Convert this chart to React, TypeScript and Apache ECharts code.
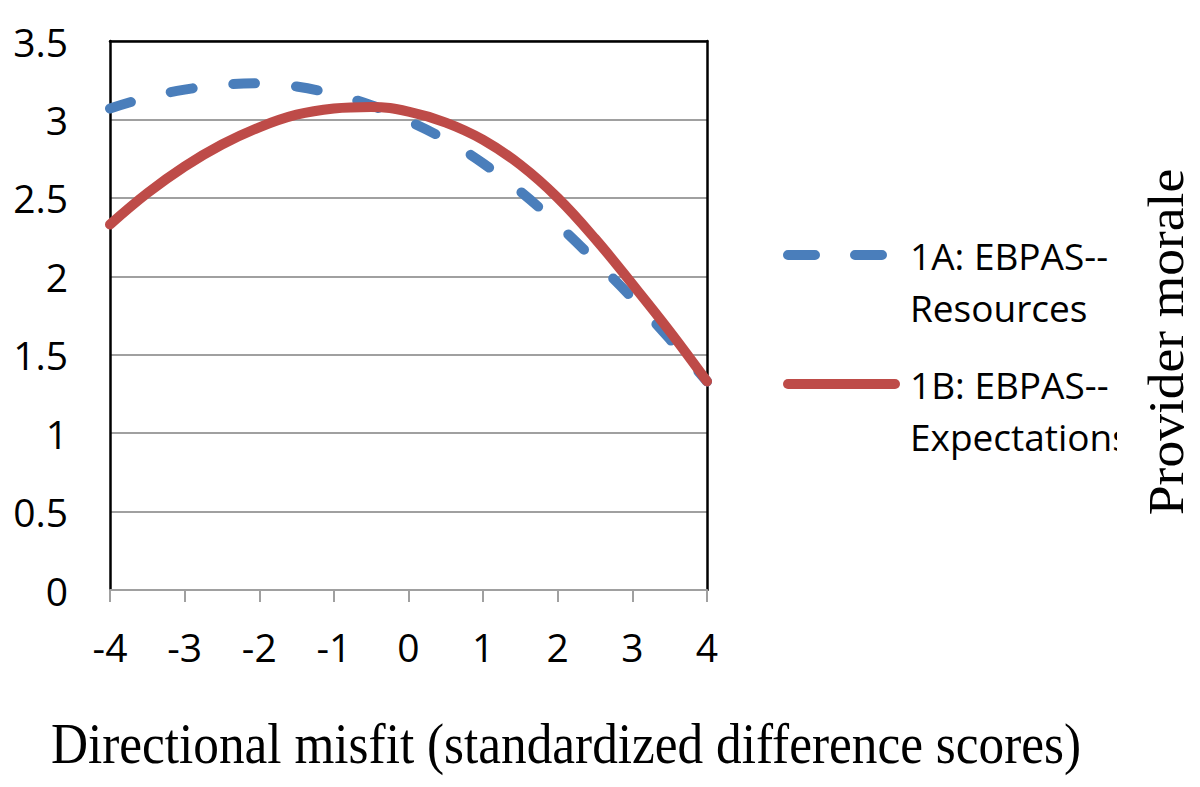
import React, { useEffect, useRef } from "react";
import * as echarts from "echarts";

const xValues = [-4, -3.5, -3, -2.5, -2, -1.5, -1, -0.5, 0, 0.5, 1, 1.5, 2, 2.5, 3, 3.5, 4];
const resources = [3.07, 3.14, 3.19, 3.22, 3.23, 3.21, 3.16, 3.09, 2.99, 2.87, 2.72, 2.54, 2.33, 2.1, 1.86, 1.6, 1.33];
const expectations = [2.33, 2.53, 2.7, 2.84, 2.95, 3.03, 3.07, 3.08, 3.05, 2.98, 2.87, 2.71, 2.5, 2.24, 1.95, 1.65, 1.33];
const seriesNames = ["1A: EBPAS--\nResources", "1B: EBPAS--\nExpectations"];
const xTitle = "Directional misfit (standardized difference scores)";
const yTitle = "Provider morale";

const BLUE = "#4A7EBB";
const RED = "#BE4B48";
const SANS = "'Open Sans', 'Noto Sans', sans-serif";
const SERIF = "'Liberation Serif', 'DejaVu Serif', serif";

export default function App() {
  const ref = useRef<HTMLDivElement>(null);
  useEffect(() => {
    if (!ref.current) return;
    const chart = echarts.init(ref.current, undefined, { renderer: "svg" });
    const pairs = (ys: number[]) => xValues.map((x, i) => [x, ys[i]]);
    chart.setOption({
      animation: false,
      backgroundColor: "#ffffff",
      grid: { left: 110, right: 493, top: 41, bottom: 197, containLabel: false },
      xAxis: [
        {
          type: "value",
          min: -4,
          max: 4,
          interval: 1,
          position: "bottom",
          axisLine: { show: true, onZero: false, lineStyle: { color: "#A0A0A0", width: 2 } },
          axisTick: { show: true, length: 12, lineStyle: { color: "#A0A0A0", width: 2 } },
          axisLabel: { color: "#000", fontFamily: SANS, fontSize: 39, margin: 37 },
          splitLine: { show: false },
        },
        {
          type: "value",
          min: -4,
          max: 4,
          interval: 1,
          position: "top",
          axisLine: { show: true, onZero: false, lineStyle: { color: "#000", width: 2.5 } },
          axisTick: { show: false },
          axisLabel: { show: false },
          splitLine: { show: false },
        },
      ],
      yAxis: [
        {
          type: "value",
          min: 0,
          max: 3.5,
          interval: 0.5,
          position: "left",
          axisLine: { show: true, onZero: false, lineStyle: { color: "#000", width: 2.5 } },
          axisTick: { show: false },
          axisLabel: { color: "#000", fontFamily: SANS, fontSize: 39, margin: 42 },
          splitLine: { show: true, lineStyle: { color: "#A0A0A0", width: 2 } },
        },
        {
          type: "value",
          min: 0,
          max: 3.5,
          interval: 0.5,
          position: "right",
          axisLine: { show: true, onZero: false, lineStyle: { color: "#000", width: 2.5 } },
          axisTick: { show: false },
          axisLabel: { show: false },
          splitLine: { show: false },
        },
      ],
      series: [
        {
          name: seriesNames[0],
          type: "line",
          data: pairs(resources),
          smooth: 0.4,
          showSymbol: false,
          z: 3,
          lineStyle: { color: BLUE, width: 10, type: [22, 41], cap: "round" },
        },
        {
          name: seriesNames[1],
          type: "line",
          data: pairs(expectations),
          smooth: 0.4,
          showSymbol: false,
          z: 4,
          lineStyle: { color: RED, width: 10, type: "solid", cap: "round" },
        },
      ],
      graphic: [
        {
          type: "line",
          shape: { x1: 788, y1: 255, x2: 882, y2: 255 },
          style: { stroke: BLUE, lineWidth: 10, lineCap: "round", lineDash: [27, 40] },
        },
        {
          type: "line",
          shape: { x1: 788, y1: 384, x2: 895, y2: 384 },
          style: { stroke: RED, lineWidth: 10, lineCap: "round" },
        },
        {
          type: "text",
          x: 910,
          y: 229,
          style: {
            text: seriesNames[0],
            fill: "#000",
            font: `37px ${SANS}`,
            lineHeight: 52,
            verticalAlign: "top",
            align: "left",
          },
        },
        {
          type: "text",
          x: 910,
          y: 358,
          style: {
            text: seriesNames[1],
            fill: "#000",
            font: `37px ${SANS}`,
            lineHeight: 52,
            verticalAlign: "top",
            align: "left",
          },
        },
        {
          type: "rect",
          z: 100,
          shape: { x: 1117, y: 405, width: 28, height: 60 },
          style: { fill: "#ffffff" },
        },
        {
          type: "text",
          x: 566,
          y: 744,
          scaleX: 0.9,
          style: {
            text: xTitle,
            fill: "#000",
            font: `57px ${SERIF}`,
            align: "center",
            verticalAlign: "middle",
          },
        },
        {
          type: "text",
          x: 1165,
          y: 342,
          rotation: Math.PI / 2,
          scaleX: 1.05,
          style: {
            text: yTitle,
            fill: "#000",
            font: `51px ${SERIF}`,
            align: "center",
            verticalAlign: "middle",
          },
        },
      ],
    });
    return () => chart.dispose();
  }, []);
  return (
    <div
      ref={ref}
      style={{ position: "absolute", left: 0, top: 0, width: 1200, height: 787 }}
    />
  );
}
